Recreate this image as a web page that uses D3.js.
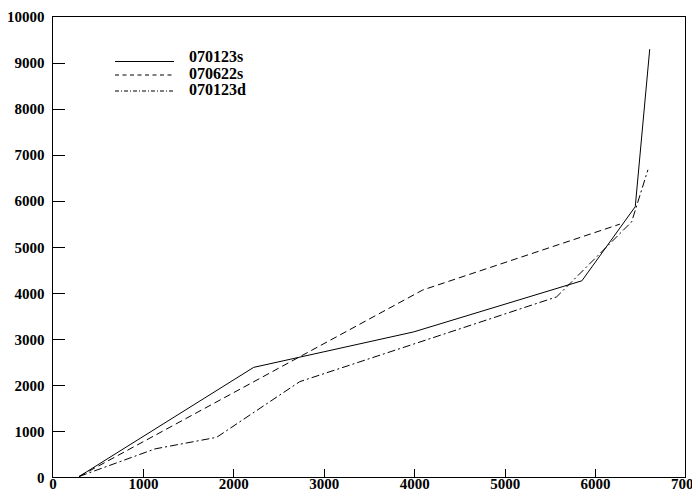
<!DOCTYPE html>
<html>
<head>
<meta charset="utf-8">
<script src="https://cdn.jsdelivr.net/npm/d3@7"></script>
<style>
  html, body { margin: 0; padding: 0; background: #fff; }
  svg { display: block; }
  text { font-family: "Liberation Serif", "Times New Roman", serif; font-weight: bold; fill: #000; }
</style>
</head>
<body>
<svg id="chart" width="692" height="492"></svg>
<script>
// Axis ticks
const xTicks = [0, 1000, 2000, 3000, 4000, 5000, 6000, 7000];
const yTicks = [0, 1000, 2000, 3000, 4000, 5000, 6000, 7000, 8000, 9000, 10000];

// Series names (legend order)
const seriesNames = ["070123s", "070622s", "070123d"];

// 070123s (solid)
const s1X = [300, 2230, 4000, 5860, 6450, 6610];
const s1Y = [0, 2370, 3140, 4250, 5860, 9280];

// 070622s (dashed)
const s2X = [300, 4100, 6280];
const s2Y = [0, 4050, 5480];

// 070123d (dash-dot)
const s3X = [300, 1140, 1820, 2740, 5580, 6410, 6590];
const s3Y = [0, 600, 850, 2060, 3900, 5530, 6660];

const svg = d3.select("#chart");
const W = 692, H = 492;
const plot = { left: 52, right: 685, top: 16, bottom: 476.5 };

const x = d3.scaleLinear().domain([0, 7000]).range([plot.left, plot.right]);
const y = d3.scaleLinear().domain([0, 10000]).range([plot.bottom, plot.top]);
const fmt = d3.format("d");

svg.append("rect").attr("width", W).attr("height", H).attr("fill", "#fff");

// Frame
svg.append("rect")
  .attr("x", plot.left + 0.5).attr("y", plot.top + 0.5)
  .attr("width", plot.right - plot.left).attr("height", plot.bottom - plot.top)
  .attr("fill", "none").attr("stroke", "#000").attr("stroke-width", 1)
  .attr("shape-rendering", "crispEdges");

// X axis: inward ticks, labels below
const xAxis = d3.axisBottom(x).tickValues(xTicks).tickFormat(fmt)
  .tickSizeInner(-8).tickSizeOuter(0);
const gx = svg.append("g").attr("transform", `translate(0.5,${plot.bottom + 0.5})`).call(xAxis);
gx.select(".domain").remove();
gx.selectAll(".tick line").attr("stroke", "#000").attr("shape-rendering", "crispEdges")
  .filter(d => d === 0 || d === 7000).remove();
gx.selectAll(".tick text").attr("font-size", 15).attr("dy", null).attr("y", 12)
  .attr("fill", "#000").attr("font-family", null);

// Y axis: inward ticks, labels left
const yAxis = d3.axisLeft(y).tickValues(yTicks).tickFormat(fmt)
  .tickSizeInner(-12).tickSizeOuter(0);
const gy = svg.append("g").attr("transform", `translate(${plot.left + 0.5},0.5)`).call(yAxis);
gy.select(".domain").remove();
gy.selectAll(".tick line").attr("stroke", "#000").attr("shape-rendering", "crispEdges")
  .filter(d => d === 0 || d === 10000).remove();
gy.selectAll(".tick text").attr("font-size", 15).attr("x", -8).attr("dy", "0.35em")
  .attr("text-anchor", "end").attr("fill", "#000").attr("font-family", null);

// Lines
const series = [
  { name: seriesNames[0], xs: s1X, ys: s1Y, dash: null, legendDash: null },
  { name: seriesNames[1], xs: s2X, ys: s2Y, dash: "7,4", legendDash: "4,3.5" },
  { name: seriesNames[2], xs: s3X, ys: s3Y, dash: "8,3,2,3", legendDash: "4,2,1,2" }
];

const line = d3.line().x(d => x(d[0])).y(d => y(d[1]));

series.forEach(s => {
  const pts = s.xs.map((v, i) => [v, s.ys[i]]);
  svg.append("path")
    .datum(pts)
    .attr("d", line)
    .attr("fill", "none")
    .attr("stroke", "#000")
    .attr("stroke-width", 1)
    .attr("stroke-dasharray", s.dash);
});

// Legend
const legend = svg.append("g");
const legLineY = [61, 74.5, 90.5];
const legTextY = [61.5, 79, 95];
series.forEach((s, i) => {
  legend.append("line")
    .attr("x1", 115).attr("x2", 174)
    .attr("y1", legLineY[i] + 0.5).attr("y2", legLineY[i] + 0.5)
    .attr("stroke", "#000").attr("stroke-width", 1)
    .attr("stroke-dasharray", s.legendDash);
  legend.append("text")
    .attr("x", 189).attr("y", legTextY[i])
    .attr("font-size", 16)
    .text(s.name);
});
</script>
</body>
</html>
